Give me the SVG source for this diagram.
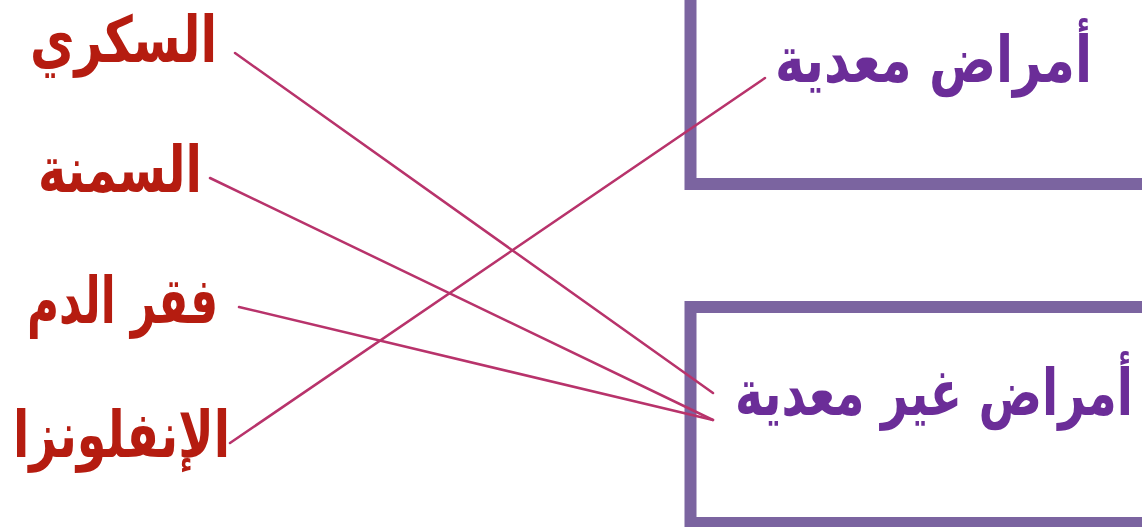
<svg xmlns="http://www.w3.org/2000/svg" width="1142" height="527" viewBox="0 0 1142 527">
<style>
.bg{fill:#ffffff}
.box{fill:#ffffff;stroke:#7b64a0;stroke-width:12}
.lbl{font-family:"DejaVu Sans",sans-serif;font-weight:bold;font-size:64px;text-anchor:middle}
.red{fill:#b51c10}
.pur{fill:#6b2d98}
.conn line{stroke:#b8336b;stroke-width:2.5;stroke-linecap:round}
</style>
<rect class="bg" x="0" y="0" width="1142" height="527"/>
<g id="node-communicable">
<rect class="box" x="690.5" y="-30" width="520" height="214"/>
<text class="lbl pur" x="933.5" y="82" textLength="317" lengthAdjust="spacingAndGlyphs">أمراض معدية</text>
</g>
<g id="node-noncommunicable">
<rect class="box" x="690.5" y="307" width="520" height="216"/>
<text class="lbl pur" x="934" y="415" textLength="398" lengthAdjust="spacingAndGlyphs">أمراض غير معدية</text>
</g>
<g id="node-diabetes"><text class="lbl red" x="123.5" y="62" textLength="187" lengthAdjust="spacingAndGlyphs">السكري</text></g>
<g id="node-obesity"><text class="lbl red" x="120" y="192" textLength="164" lengthAdjust="spacingAndGlyphs">السمنة</text></g>
<g id="node-anemia"><text class="lbl red" x="122.5" y="323" textLength="191" lengthAdjust="spacingAndGlyphs">فقر الدم</text></g>
<g id="node-influenza"><text class="lbl red" x="121.5" y="457" textLength="217" lengthAdjust="spacingAndGlyphs">الإنفلونزا</text></g>
<g id="connectors" class="conn">
<line x1="235" y1="53" x2="713" y2="393"/>
<line x1="210" y1="178" x2="713" y2="420"/>
<line x1="239" y1="307" x2="713" y2="420"/>
<line x1="230" y1="443" x2="765" y2="78"/>
</g>
</svg>
